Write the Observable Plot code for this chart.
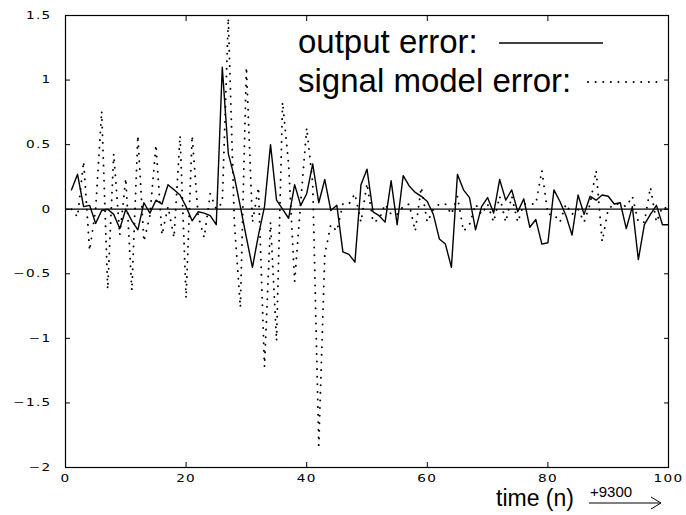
<!DOCTYPE html>
<html><head><meta charset="utf-8">
<script src="https://cdn.jsdelivr.net/npm/d3@7"></script>
<script src="https://cdn.jsdelivr.net/npm/@observablehq/plot@0.6"></script>
<style>
body{margin:0;background:#fff;}
</style>
</head><body><div id="chart"></div>
<script>
// output error, samples n = 1..100
const outputError = [
  0.15, 0.27, 0.02, 0.03, -0.11, -0.01, 0.00, -0.04, -0.15, 0.00,
  -0.09, -0.16, 0.05, -0.03, 0.07, 0.04, 0.19, 0.15, 0.11, 0.02,
  -0.09, -0.02, -0.03, -0.05, -0.12, 1.10, 0.43, 0.25, 0.02, -0.22,
  -0.45, -0.20, 0.02, 0.50, 0.07, 0.00, -0.07, 0.19, 0.03, 0.12,
  0.35, 0.05, 0.23, -0.01, 0.03, -0.33, -0.35, -0.41, 0.19, 0.31,
  -0.02, -0.05, -0.10, 0.22, -0.12, 0.26, 0.18, 0.13, 0.10, 0.06,
  -0.04, -0.23, -0.27, -0.45, 0.27, 0.15, 0.09, -0.16, 0.02, 0.09,
  -0.03, 0.23, 0.07, 0.15, -0.02, 0.08, -0.14, -0.08, -0.27, -0.26,
  0.15, 0.06, -0.05, -0.20, 0.11, -0.04, 0.10, 0.07, 0.11, 0.10,
  0.04, 0.05, -0.15, 0.02, -0.39, -0.12, -0.04, 0.03, -0.12, -0.12
];
// signal model error, samples n = 1..100
const signalModelError = [
  0.00, -0.06, 0.37, -0.32, 0.00, 0.76, -0.62, 0.43, -0.20, 0.24,
  -0.63, 0.57, -0.25, -0.05, 0.50, -0.20, 0.02, -0.22, 0.57, -0.69,
  0.57, -0.05, -0.22, 0.12, 0.00, 0.05, 1.48, -0.10, -0.76, 1.10,
  -0.10, 0.17, -1.22, -0.10, -1.02, 0.83, 0.35, -0.56, 0.05, 0.63,
  0.20, -1.83, -0.35, -0.12, -0.17, 0.04, 0.04, 0.12, -0.10, 0.20,
  -0.10, -0.08, 0.04, -0.04, -0.04, 0.02, 0.04, -0.17, 0.17, -0.10,
  0.00, 0.04, 0.04, -0.04, 0.10, -0.17, -0.12, 0.04, -0.04, 0.04,
  -0.10, 0.10, -0.10, 0.10, -0.10, 0.04, 0.04, 0.04, 0.30, -0.04,
  -0.04, -0.10, 0.04, -0.04, 0.00, -0.10, 0.04, 0.30, -0.25, 0.00,
  0.04, 0.04, 0.02, 0.10, -0.10, -0.10, 0.17, -0.10, 0.02, 0.00
];
const xTicks = [0, 20, 40, 60, 80, 100];
const yTicks = [-2, -1.5, -1, -0.5, 0, 0.5, 1, 1.5];
const legendLabels = ["output error:", "signal model error:"];
const xLabel = "time (n)";
const xOffsetLabel = "+9300";

const rows = outputError.map((v, i) => ({n: i + 1, out: v, sig: signalModelError[i]}));
const blank = () => "";
const fmt = d3.format("~g");

const chart = Plot.plot({
  width: 686, height: 515,
  marginLeft: 65, marginRight: 18, marginTop: 15, marginBottom: 48,
  x: {domain: [0, 100]},
  y: {domain: [-2, 1.5]},
  style: {background: "#fff", color: "#000", fontFamily: "DejaVu Sans", fontSize: "10.5px"},
  marks: [
    Plot.axisX(xTicks, {anchor: "bottom", tickSize: -5, tickFormat: blank, label: null}),
    Plot.axisX(xTicks, {anchor: "top", tickSize: -5, tickFormat: blank, label: null}),
    Plot.axisY(yTicks, {anchor: "left", tickSize: -5, tickFormat: blank, label: null}),
    Plot.axisY(yTicks, {anchor: "right", tickSize: -5, tickFormat: blank, label: null}),
    Plot.axisX(xTicks, {anchor: "bottom", tickSize: 0, tickPadding: 7, tickFormat: fmt, label: null}),
    Plot.axisY(yTicks, {anchor: "left", tickSize: 0, tickPadding: 14, tickFormat: fmt, label: null}),
    Plot.frame({stroke: "#000", strokeWidth: 1.2}),
    Plot.ruleY([0], {stroke: "#000", strokeWidth: 1.3}),
    Plot.line(rows, {x: "n", y: "sig", stroke: "#000", strokeWidth: 1.9, strokeLinecap: "round", strokeDasharray: "0.1,7.5"}),
    Plot.line(rows, {x: "n", y: "out", stroke: "#000", strokeWidth: 1.4})
  ]
});
document.getElementById("chart").appendChild(chart);

// widen tick label glyphs to resemble the original extended font
d3.select(chart).selectAll('g[aria-label="x-axis tick label"] text, g[aria-label="y-axis tick label"] text')
  .attr("transform", function() { return (this.getAttribute("transform") || "") + " scale(1.3,1)"; })
  .style("letter-spacing", "1px");

const svg = d3.select(chart);
const lg = svg.append("g").attr("font-family", "Liberation Sans, Arial, sans-serif")
  .attr("fill", "#000").attr("text-anchor", "start");
lg.append("text").attr("x", 298).attr("y", 53).attr("font-size", 33).text(legendLabels[0]);
lg.append("text").attr("x", 298).attr("y", 92).attr("font-size", 33).text(legendLabels[1]);
lg.append("line").attr("x1", 499).attr("x2", 603).attr("y1", 43).attr("y2", 43)
  .attr("stroke", "#000").attr("stroke-width", 1.4);
lg.append("line").attr("x1", 588).attr("x2", 658).attr("y1", 82).attr("y2", 82)
  .attr("stroke", "#000").attr("stroke-width", 1.9).attr("stroke-linecap", "round")
  .attr("stroke-dasharray", "0.1,7.5");

const ax = svg.append("g").attr("font-family", "Liberation Sans, Arial, sans-serif")
  .attr("fill", "#000").attr("text-anchor", "start");
ax.append("text").attr("x", 496).attr("y", 506).attr("font-size", 23).text(xLabel);
ax.append("text").attr("x", 590).attr("y", 497).attr("font-size", 15).text(xOffsetLabel);
ax.append("line").attr("x1", 589).attr("x2", 660).attr("y1", 503).attr("y2", 503)
  .attr("stroke", "#000").attr("stroke-width", 1);
ax.append("path").attr("d", "M651,497 L661,503 L651,509").attr("fill", "none")
  .attr("stroke", "#000").attr("stroke-width", 1);
</script>
</body></html>
